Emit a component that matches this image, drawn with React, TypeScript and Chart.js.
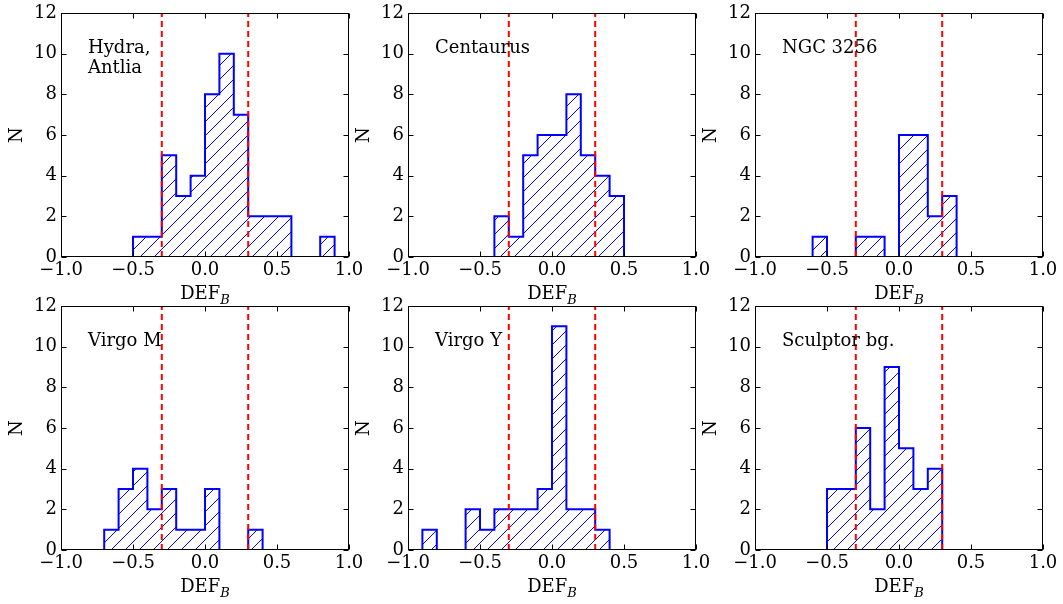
import React, { useEffect, useRef } from "react";
import { Chart, registerables } from "chart.js";

Chart.register(...registerables);

// ---------- data ----------
const binEdges = [
  -1.0, -0.9, -0.8, -0.7, -0.6, -0.5, -0.4, -0.3, -0.2, -0.1, 0.0,
  0.1, 0.2, 0.3, 0.4, 0.5, 0.6, 0.7, 0.8, 0.9, 1.0,
];

const hydraCounts = [0, 0, 0, 0, 0, 1, 1, 5, 3, 4, 8, 10, 7, 2, 2, 2, 0, 0, 1, 0];
const centaurusCounts = [0, 0, 0, 0, 0, 0, 2, 1, 5, 6, 6, 8, 5, 4, 3, 0, 0, 0, 0, 0];
const ngc3256Counts = [0, 0, 0, 0, 1, 0, 0, 1, 1, 0, 6, 6, 2, 3, 0, 0, 0, 0, 0, 0];
const virgoMCounts = [0, 0, 0, 1, 3, 4, 2, 3, 1, 1, 3, 0, 0, 1, 0, 0, 0, 0, 0, 0];
const virgoYCounts = [0, 1, 0, 0, 2, 1, 2, 2, 2, 3, 11, 2, 2, 1, 0, 0, 0, 0, 0, 0];
const sculptorCounts = [0, 0, 0, 0, 0, 3, 3, 6, 2, 9, 5, 3, 4, 0, 0, 0, 0, 0, 0, 0];

const panelNames = [["Hydra,", "Antlia"], ["Centaurus"], ["NGC 3256"], ["Virgo M"], ["Virgo Y"], ["Sculptor bg."]];
const panelCounts = [hydraCounts, centaurusCounts, ngc3256Counts, virgoMCounts, virgoYCounts, sculptorCounts];

const dashedLineX = [-0.3, 0.3];

const xTickValues = [-1.0, -0.5, 0.0, 0.5, 1.0];
const xTickLabels = ["\u22121.0", "\u22120.5", "0.0", "0.5", "1.0"];
const yTickValues = [0, 2, 4, 6, 8, 10, 12];
const yTickLabels = ["0", "2", "4", "6", "8", "10", "12"];

const xTitleMain = "DEF";
const xTitleSub = "B";
const yTitle = "N";

// ---------- styling ----------
const FONT = "'DejaVu Serif', serif";
const BLUE = "#0000ff";
const RED = "#ff0000";
const CW = 369;
const CH = 311;
const COL_STEP = 347;
const ROW_STEP = 293;
const PAD_RIGHT = CW - 61 - 288;
const HATCH_STEP = 14;

// draws "/" hatching inside the histogram area (the dataset flagged with hatch: true)
const hatchPlugin = {
  id: "hatch",
  beforeDatasetDraw(chart: any, args: any, opts: any) {
    const ds = chart.data.datasets[args.index];
    if (!ds || !ds.hatch) return;
    const pts = args.meta.data;
    if (!pts || pts.length < 2) return;
    const { ctx, chartArea: a, scales } = chart;
    const base = scales.y.getPixelForValue(0);
    ctx.save();
    ctx.beginPath();
    ctx.rect(a.left, a.top, a.right - a.left, a.bottom - a.top);
    ctx.clip();
    ctx.beginPath();
    ctx.moveTo(pts[0].x, base);
    ctx.lineTo(pts[0].x, pts[0].y);
    for (let i = 1; i < pts.length; i++) {
      ctx.lineTo(pts[i].x, pts[i - 1].y);
      ctx.lineTo(pts[i].x, pts[i].y);
    }
    ctx.lineTo(pts[pts.length - 1].x, base);
    ctx.closePath();
    ctx.clip();
    ctx.strokeStyle = BLUE;
    ctx.lineWidth = 1;
    ctx.beginPath();
    const parity = ((opts && opts.parity) || 0) & 1;
    let k0 = Math.floor(a.left + a.top) - HATCH_STEP;
    if ((k0 & 1) !== parity) k0 += 1;
    const kEnd = a.right + a.bottom + HATCH_STEP;
    for (let k = k0; k <= kEnd; k += HATCH_STEP) {
      // line x + y = k
      ctx.moveTo(k - a.bottom, a.bottom);
      ctx.lineTo(k - a.top, a.top);
    }
    ctx.stroke();
    ctx.restore();
  },
};

const framePlugin = {
  id: "frame",
  afterDatasetsDraw(chart: any) {
    const { ctx, chartArea: a, scales } = chart;
    const L = Math.round(a.left) + 0.5;
    const R = Math.round(a.right) - 0.5;
    const T = Math.round(a.top) + 0.5;
    const B = Math.round(a.bottom) - 0.5;
    ctx.save();
    ctx.strokeStyle = "#000";
    ctx.lineWidth = 1;
    ctx.setLineDash([]);
    ctx.strokeRect(L, T, R - L, B - T);
    const tl = 5;
    ctx.beginPath();
    for (const v of xTickValues) {
      const px = Math.round(scales.x.getPixelForValue(v)) + 0.5;
      ctx.moveTo(px, B);
      ctx.lineTo(px, B - tl);
      ctx.moveTo(px, T);
      ctx.lineTo(px, T + tl);
    }
    for (const v of yTickValues) {
      const py = Math.round(scales.y.getPixelForValue(v)) + 0.5;
      ctx.moveTo(L, py);
      ctx.lineTo(L + tl, py);
      ctx.moveTo(R, py);
      ctx.lineTo(R - tl, py);
    }
    ctx.stroke();
    ctx.restore();
  },
};

const textPlugin = {
  id: "panelText",
  afterDraw(chart: any, _args: any, opts: any) {
    const { ctx, chartArea: a } = chart;
    ctx.save();
    ctx.fillStyle = "#000";
    ctx.font = `18px ${FONT}`;
    ctx.textAlign = "left";
    ctx.textBaseline = "alphabetic";
    const lines: string[] = (opts && opts.lines) || [];
    lines.forEach((ln, i) => {
      ctx.fillText(ln, a.left + 27, a.top + 40 + i * 19.5);
    });
    // x-axis title with subscript
    ctx.font = `18px ${FONT}`;
    const w1 = ctx.measureText(xTitleMain).width;
    ctx.font = `italic 13px ${FONT}`;
    const w2 = ctx.measureText(xTitleSub).width;
    const cx = (a.left + a.right) / 2;
    const x0 = cx - (w1 + w2) / 2;
    const yb = a.bottom + 42;
    ctx.font = `18px ${FONT}`;
    ctx.fillText(xTitleMain, x0, yb);
    ctx.font = `italic 13px ${FONT}`;
    ctx.fillText(xTitleSub, x0 + w1, yb + 5);
    ctx.restore();
  },
};

function buildConfig(idx: number): any {
  const counts = panelCounts[idx];
  const histPoints = counts.map((c, i) => ({ x: binEdges[i], y: c }));
  histPoints.push({ x: binEdges[binEdges.length - 1], y: counts[counts.length - 1] });

  const col = idx % 3;
  const row = Math.floor(idx / 3);
  const parity = ((col * COL_STEP + row * ROW_STEP) & 1) ^ 1;

  const dashed = dashedLineX.map((xv) => ({
    data: [
      { x: xv, y: yTickValues[0] },
      { x: xv, y: yTickValues[yTickValues.length - 1] },
    ],
    borderColor: RED,
    borderWidth: 2,
    borderDash: [6, 4],
    pointRadius: 0,
    fill: false,
    tension: 0,
  }));

  return {
    type: "line",
    data: {
      datasets: [
        ...dashed,
        {
          data: histPoints,
          hatch: true,
          stepped: "before",
          borderColor: BLUE,
          borderWidth: 2,
          backgroundColor: "rgba(0,0,0,0)",
          fill: false,
          pointRadius: 0,
          tension: 0,
        },
      ],
    },
    options: {
      animation: false,
      responsive: false,
      devicePixelRatio: 1,
      events: [],
      layout: { padding: { top: 13, right: PAD_RIGHT, left: 0, bottom: 0 } },
      plugins: {
        legend: { display: false },
        tooltip: { enabled: false },
        panelText: { lines: panelNames[idx] },
        hatch: { parity },
      },
      scales: {
        x: {
          type: "linear",
          min: -1,
          max: 1,
          grid: { display: false, drawTicks: false },
          border: { display: false },
          afterBuildTicks: (s: any) => {
            s.ticks = xTickValues.map((v) => ({ value: v }));
          },
          afterFit: (s: any) => {
            s.height = 54;
            s.paddingLeft = 0;
            s.paddingRight = 0;
          },
          ticks: {
            autoSkip: false,
            maxRotation: 0,
            padding: 3,
            color: "#000",
            font: { family: FONT, size: 18 },
            callback: (v: number) => {
              const i = xTickValues.indexOf(v);
              return i >= 0 ? xTickLabels[i] : "";
            },
          },
        },
        y: {
          type: "linear",
          min: 0,
          max: 12,
          grid: { display: false, drawTicks: false },
          border: { display: false },
          afterBuildTicks: (s: any) => {
            s.ticks = yTickValues.map((v) => ({ value: v }));
          },
          afterFit: (s: any) => {
            s.width = 61;
            s.paddingTop = 0;
            s.paddingBottom = 0;
          },
          title: {
            display: true,
            text: yTitle,
            color: "#000",
            font: { family: FONT, size: 18 },
            padding: { top: 7, bottom: 0 },
          },
          ticks: {
            padding: 4,
            color: "#000",
            font: { family: FONT, size: 18 },
            callback: (v: number) => {
              const i = yTickValues.indexOf(v);
              return i >= 0 ? yTickLabels[i] : "";
            },
          },
        },
      },
    },
    plugins: [hatchPlugin, framePlugin, textPlugin],
  };
}

function Panel({ idx }: { idx: number }) {
  const ref = useRef<HTMLCanvasElement | null>(null);
  useEffect(() => {
    const cv = ref.current;
    if (!cv) return;
    const chart = new Chart(cv, buildConfig(idx));
    return () => chart.destroy();
  }, [idx]);
  const col = idx % 3;
  const row = Math.floor(idx / 3);
  return (
    <canvas
      ref={ref}
      width={CW}
      height={CH}
      style={{
        position: "absolute",
        left: col * COL_STEP,
        top: row * ROW_STEP,
        width: CW,
        height: CH,
      }}
    />
  );
}

export default function App() {
  return (
    <div
      style={{
        position: "absolute",
        left: 0,
        top: 0,
        width: 1063,
        height: 604,
        background: "#fff",
        overflow: "hidden",
      }}
    >
      {panelCounts.map((_, i) => (
        <Panel key={i} idx={i} />
      ))}
    </div>
  );
}
